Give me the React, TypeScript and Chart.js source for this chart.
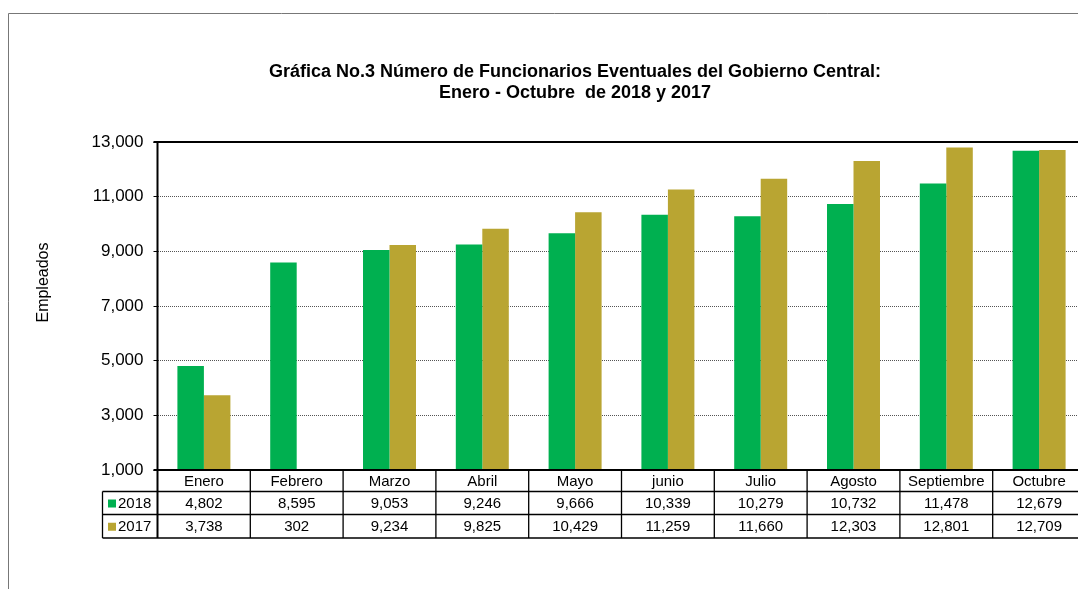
import React, { useEffect, useRef } from "react";
import { Chart, registerables } from "chart.js";

Chart.register(...registerables);

const categories = ["Enero", "Febrero", "Marzo", "Abril", "Mayo", "junio", "Julio", "Agosto", "Septiembre", "Octubre"];
const values2018 = [4802, 8595, 9053, 9246, 9666, 10339, 10279, 10732, 11478, 12679];
const values2017 = [3738, 302, 9234, 9825, 10429, 11259, 11660, 12303, 12801, 12709];
const seriesNames = ["2018", "2017"];
const seriesColors = ["#00B050", "#B9A532"];
const titleLines = ["Gráfica No.3 Número de Funcionarios Eventuales del Gobierno Central:", "Enero - Octubre  de 2018 y 2017"];
const yAxisTitle = "Empleados";
const yMin = 1000;
const yMax = 13000;
const yStep = 2000;

const FONT = 'Arial, "Liberation Sans", sans-serif';
const fmt = (v: number) => v.toLocaleString("en-US");

const decorPlugin = {
  id: "decor",
  beforeDraw(chart: any) {
    const ctx = chart.ctx;
    ctx.save();
    ctx.fillStyle = "#fff";
    ctx.fillRect(0, 0, chart.width, chart.height);
    // outer frame
    ctx.strokeStyle = "#777";
    ctx.lineWidth = 1;
    ctx.beginPath();
    ctx.moveTo(8.5, chart.height);
    ctx.lineTo(8.5, 13.5);
    ctx.lineTo(chart.width, 13.5);
    ctx.stroke();
    // title
    ctx.fillStyle = "#000";
    ctx.font = `bold 18px ${FONT}`;
    ctx.textAlign = "center";
    ctx.textBaseline = "alphabetic";
    ctx.fillText(titleLines[0], 575, 77);
    ctx.fillText(titleLines[1], 575, 97.5);
    // y axis title
    ctx.save();
    ctx.translate(48, 282.5);
    ctx.rotate(-Math.PI / 2);
    ctx.font = `16px ${FONT}`;
    ctx.fillText(yAxisTitle, 0, 0);
    ctx.restore();
    ctx.restore();
  },
  afterDraw(chart: any) {
    const ctx = chart.ctx;
    const ca = chart.chartArea;
    const n = categories.length;
    const cw = (ca.right - ca.left) / n;
    const y0 = ca.bottom;
    const y1 = y0 + 21.5;
    const y2 = y1 + 23;
    const y3 = y2 + 23.5;
    const legendLeft = 102.5;
    ctx.save();
    ctx.strokeStyle = "#000";
    // table lines
    ctx.lineWidth = 1.3;
    ctx.beginPath();
    for (let i = 1; i <= n; i++) {
      const x = ca.left + i * cw;
      ctx.moveTo(x, y0);
      ctx.lineTo(x, y3);
    }
    ctx.moveTo(legendLeft, y1);
    ctx.lineTo(legendLeft, y3);
    [y1, y2, y3].forEach((y) => {
      ctx.moveTo(legendLeft, y);
      ctx.lineTo(ca.right, y);
    });
    ctx.stroke();
    // axis lines (thicker)
    ctx.lineWidth = 2;
    ctx.beginPath();
    ctx.moveTo(ca.left, ca.top);
    ctx.lineTo(ca.left, y3);
    ctx.moveTo(ca.left - 4, y0);
    ctx.lineTo(ca.right, y0);
    ctx.moveTo(ca.left - 4, ca.top);
    ctx.lineTo(ca.right, ca.top);
    ctx.stroke();
    // texts
    ctx.fillStyle = "#000";
    ctx.font = `15px ${FONT}`;
    ctx.textAlign = "center";
    ctx.textBaseline = "middle";
    const rows = [values2018, values2017];
    for (let i = 0; i < n; i++) {
      const cx = ca.left + (i + 0.5) * cw;
      ctx.fillText(categories[i], cx, (y0 + y1) / 2 + 1);
      ctx.fillText(fmt(rows[0][i]), cx, (y1 + y2) / 2 + 1);
      ctx.fillText(fmt(rows[1][i]), cx, (y2 + y3) / 2 + 1);
    }
    // legend keys
    const rowMids = [(y1 + y2) / 2, (y2 + y3) / 2];
    ctx.textAlign = "left";
    for (let s = 0; s < 2; s++) {
      ctx.fillStyle = seriesColors[s];
      ctx.fillRect(108, rowMids[s] - 3.5, 8, 8);
      ctx.fillStyle = "#000";
      ctx.fillText(seriesNames[s], 118, rowMids[s] + 1);
    }
    ctx.restore();
  },
};

export default function App() {
  const ref = useRef<HTMLCanvasElement | null>(null);
  useEffect(() => {
    if (!ref.current) return;
    const chart = new Chart(ref.current, {
      type: "bar",
      data: {
        labels: categories,
        datasets: [
          {
            label: seriesNames[0],
            data: values2018,
            backgroundColor: seriesColors[0],
            borderWidth: 0,
            categoryPercentage: 0.571,
            barPercentage: 1,
          },
          {
            label: seriesNames[1],
            data: values2017,
            backgroundColor: seriesColors[1],
            borderWidth: 0,
            categoryPercentage: 0.571,
            barPercentage: 1,
          },
        ],
      },
      options: {
        animation: false,
        responsive: false,
        devicePixelRatio: 1,
        layout: { padding: { top: 142, bottom: 119, left: 0, right: 14.5 } },
        plugins: {
          legend: { display: false },
          title: { display: false },
          tooltip: { enabled: false },
        },
        scales: {
          x: { display: false, grid: { display: false } },
          y: {
            min: yMin,
            max: yMax,
            afterFit: (s: any) => {
              s.width = 157.5;
            },
            ticks: {
              stepSize: yStep,
              padding: 10,
              color: "#000",
              font: { family: FONT, size: 17 },
              callback: (v: any) => fmt(Number(v)),
            },
            grid: {
              color: "#555",
              lineWidth: 1,
              tickLength: 4,
              tickColor: "#000",
              drawTicks: true,
            },
            border: { display: false, dash: [1, 1] },
          },
        },
      },
      plugins: [decorPlugin],
    });
    return () => chart.destroy();
  }, []);
  return (
    <div style={{ position: "fixed", left: 0, top: 0, width: "100vw", height: "100vh", overflow: "hidden", background: "#fff" }}>
      <canvas ref={ref} width={1100} height={589} style={{ position: "absolute", left: 0, top: 0, display: "block" }} />
    </div>
  );
}
